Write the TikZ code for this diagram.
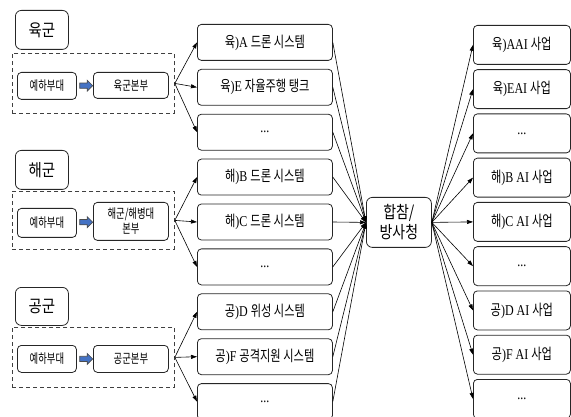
\documentclass[tikz,border=0pt]{standalone}
\usepackage{fontspec}
\setmainfont{Liberation Serif}[FakeStretch=0.8]
\newfontfamily\krA{Noto Sans CJK KR}[FakeStretch=0.85]
\newfontfamily\krB{Noto Sans CJK KR}[FakeStretch=0.72]
\newfontfamily\krC{Noto Sans CJK KR}[FakeStretch=0.75]
\newfontfamily\krD{Noto Sans CJK KR}[FakeStretch=0.82]
\usetikzlibrary{arrows.meta,shapes.arrows,calc}
\definecolor{arrblue}{RGB}{68,114,196}
\tikzset{
  box/.style={draw=black!85, line width=0.8pt, rounded corners=4pt, inner sep=0pt, anchor=north west, align=center},
  lbl/.style={box, font=\krA\fontsize{17}{19}\selectfont, rounded corners=6pt},
  dbox/.style={draw=black!75, dash pattern=on 4pt off 3pt, line width=0.8pt, inner sep=0pt, anchor=north west},
  small/.style={box, font=\krB\fontsize{13}{15}\selectfont},
  mid/.style={box, minimum width=135pt, minimum height=36pt, font=\fontsize{15}{17}\selectfont},
  rgt/.style={box, minimum width=97pt, minimum height=39pt, font=\fontsize{15}{17}\selectfont},
  ctr/.style={box, minimum width=65pt, minimum height=50pt, font=\krD\fontsize{17}{20}\selectfont, rounded corners=6pt},
  bluearrow/.style={single arrow, draw=black!70, fill=arrblue, line width=0.6pt, minimum height=13pt, minimum width=11pt, single arrow head extend=2.5pt, inner sep=2pt},
  conn/.style={line width=0.6pt, -{Triangle[length=6pt,width=4pt]}}
}
\begin{document}
\begin{tikzpicture}[x=1pt,y=-1pt]
\useasboundingbox (0,0) rectangle (571,417);
% Left groups
\node[lbl, minimum width=53pt, minimum height=39pt] (la) at (15,10) {육군};
\node[dbox, minimum width=162pt, minimum height=60pt] (da) at (12,53) {};
\node[small, minimum width=59pt, minimum height=27pt] (ya) at (17,72) {예하부대};
\node[small, minimum width=75pt, minimum height=26pt] (ha) at (93,72) {육군본부};
\node[bluearrow] (ba) at ($(ya.east)!0.5!(ha.west)$) {};

\node[lbl, minimum width=53pt, minimum height=39pt] (ln) at (15,150) {해군};
\node[dbox, minimum width=162pt, minimum height=58pt] (dn) at (12,191) {};
\node[small, minimum width=59pt, minimum height=29pt] (yn) at (17,208) {예하부대};
\node[small, minimum width=75pt, minimum height=38pt] (hn) at (93,202) {해군/해병대\\본부};
\node[bluearrow] (bn) at ($(yn.east)!0.5!(hn.west)$) {};

\node[lbl, minimum width=53pt, minimum height=38pt] (lf) at (15,287) {공군};
\node[dbox, minimum width=162pt, minimum height=60pt] (df) at (12,327) {};
\node[small, minimum width=59pt, minimum height=27pt] (yf) at (17,345) {예하부대};
\node[small, minimum width=75pt, minimum height=27pt] (hf) at (93,345) {공군본부};
\node[bluearrow] (bf) at ($(yf.east)!0.5!(hf.west)$) {};

% Middle column
\node[mid] (m1) at (197,24)    {{\krC 육})A {\krC 드론 시스템}};
\node[mid] (m2) at (197,68.9)  {{\krC 육})E {\krC 자율주행 탱크}};
\node[mid] (m3) at (197,113.8) {...};
\node[mid] (m4) at (197,158.7) {{\krC 해})B {\krC 드론 시스템}};
\node[mid] (m5) at (197,203.6) {{\krC 해})C {\krC 드론 시스템}};
\node[mid] (m6) at (197,248.5) {...};
\node[mid] (m7) at (197,293.4) {{\krC 공})D {\krC 위성 시스템}};
\node[mid] (m8) at (197,338.3) {{\krC 공})F {\krC 공격지원 시스템}};
\node[mid] (m9) at (197,383.2) {...};

% Center
\node[ctr] (c) at (366,197) {합참/\\방사청};

% Right column
\node[rgt] (r1) at (473,25)     {{\krC 육})AAI {\krC 사업}};
\node[rgt] (r2) at (473,69.25)  {{\krC 육})EAI {\krC 사업}};
\node[rgt] (r3) at (473,113.5)  {...};
\node[rgt] (r4) at (473,157.75) {{\krC 해})B AI {\krC 사업}};
\node[rgt] (r5) at (473,202)    {{\krC 해})C AI {\krC 사업}};
\node[rgt] (r6) at (473,246.25) {...};
\node[rgt] (r7) at (473,290.5)  {{\krC 공})D AI {\krC 사업}};
\node[rgt] (r8) at (473,334.75) {{\krC 공})F AI {\krC 사업}};
\node[rgt] (r9) at (473,379)    {...};

% Connectors left -> middle
\foreach \m in {m1,m2,m3} \draw[conn] (da.east) -- (\m.west);
\foreach \m in {m4,m5,m6} \draw[conn] (dn.east) -- (\m.west);
\foreach \m in {m7,m8,m9} \draw[conn] (df.east) -- (\m.west);
% middle -> center
\foreach \m in {m1,m2,m3,m4,m5,m6,m7,m8,m9} \draw[conn] (\m.east) -- (c.west);
% center -> right
\foreach \r in {r1,r2,r3,r4,r5,r6,r7,r8,r9} \draw[conn] (c.east) -- (\r.west);
\end{tikzpicture}
\end{document}
